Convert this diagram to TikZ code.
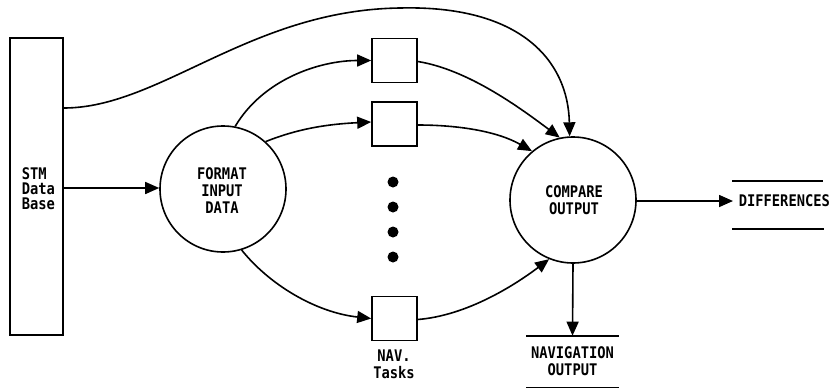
\documentclass[tikz,border=0pt]{standalone}
\usepackage{fontspec}
\setmainfont[FakeStretch=0.86]{DejaVu Sans Mono}
\usetikzlibrary{arrows.meta}
\begin{document}
\begin{tikzpicture}[x=1pt,y=-1pt,line width=1.6pt,
  flow/.style={-{Triangle[length=14pt,width=12pt]}},
  proc/.style={circle,draw,minimum size=126pt,inner sep=0pt},
  task/.style={rectangle,draw,minimum width=45pt,minimum height=44pt,inner sep=0pt},
  lbl/.style={font=\fontsize{16}{17}\selectfont\bfseries,align=center,inner sep=0pt},
  store/.style={lbl,minimum width=91pt,minimum height=50pt},
  bigdot/.style={circle,fill,minimum size=11pt,inner sep=0pt}]
\useasboundingbox (0,0) rectangle (830,389);
% data base
\node[draw,minimum width=53pt,minimum height=297pt,inner sep=0pt] (stm) at (36.5,186.5) {};
\node[lbl,align=left,anchor=west,font=\fontsize{16}{15}\selectfont\bfseries] (stmt) at (21,189) {STM\\Data\\Base};
% processes
\node[proc] (fmt) at (223,189) {};
\node[lbl] (fmtt) at (222,191) {FORMAT\\INPUT\\DATA};
\node[proc] (cmp) at (573,200) {};
\node[lbl] (cmpt) at (574,200) {COMPARE\\OUTPUT};
% tasks
\node[task] (b1) at (394.5,60.5) {};
\node[task] (b2) at (394.5,124) {};
\node[task] (b3) at (394.5,318.5) {};
\node[bigdot] (d1) at (393,182) {};
\node[bigdot] (d2) at (393,207) {};
\node[bigdot] (d3) at (393,232) {};
\node[bigdot] (d4) at (393,257) {};
\node[lbl] (navt) at (394,364) {NAV.\\Tasks};
% outputs
\node[lbl,anchor=west] (diff) at (738,201) {DIFFERENCES};
\draw ([xshift=-6pt,yshift=20pt]diff.west) -- ++(91,0);
\draw ([xshift=-6pt,yshift=-28pt]diff.west) -- ++(92,0);
\node[store] (nav) at (572.5,361.5) {NAVIGATION\\OUTPUT};
\draw (nav.north west) -- (nav.north east);
\draw (nav.south west) -- (nav.south east);
% flows
\draw[flow] (stm.east |- 0,188) -- (fmt.west |- 0,188);
\draw[flow] (stm.east |- 0,108) .. controls (160,108) and (250,10) .. (400,8)
            .. controls (520,5) and (568,60) .. (cmp.93);
\draw[flow] (fmt.79) .. controls +(28,-47) and +(-52,0) .. (b1.west);
\draw[flow] (fmt.48) .. controls +(35,-14) and +(-40,2) .. ([yshift=2pt]b2.west);
\draw[flow] (fmt.-73) .. controls +(28,35) and +(-55,-6) .. (b3.west);
\draw[flow] ([yshift=-1pt]b1.east) .. controls +(50,8) and +(-40,-30) .. (cmp.102);
\draw[flow] ([yshift=-1pt]b2.east) .. controls +(40,0) and +(-35,-20) .. (cmp.130);
\draw[flow] ([yshift=-1pt]b3.east) .. controls +(50,-4) and +(-33,25) .. (cmp.248);
\draw[flow] (cmp.east |- diff.west) -- ([xshift=-5pt]diff.west);
\draw[flow] (cmp.south) -- (nav.north);
\end{tikzpicture}
\end{document}
